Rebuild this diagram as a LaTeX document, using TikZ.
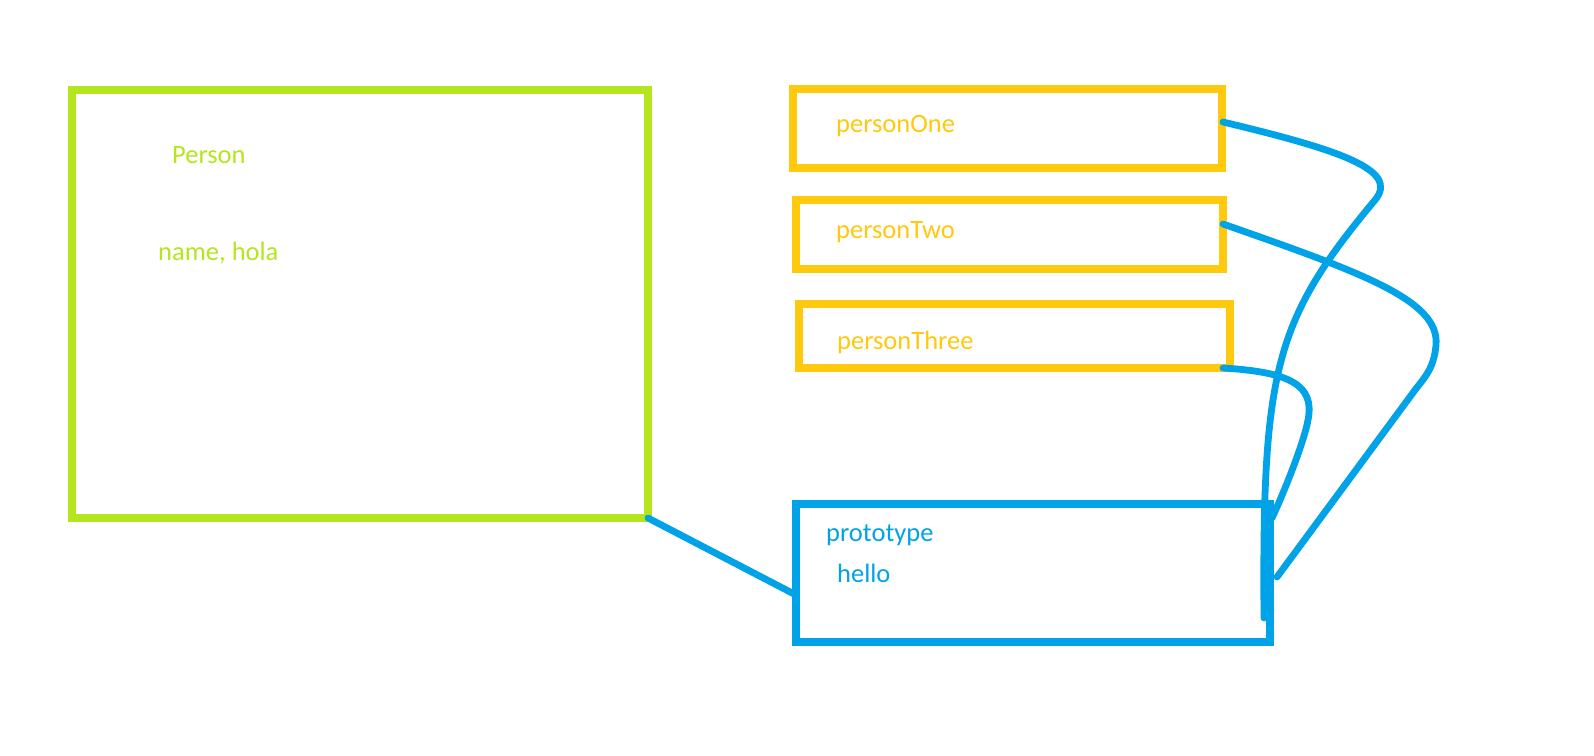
\documentclass[tikz,border=0pt]{standalone}
\usepackage{fontspec}
\setmainfont{Carlito}
\definecolor{pgreen}{HTML}{B5E61D}
\definecolor{pyellow}{HTML}{FFC90E}
\definecolor{pblue}{HTML}{00A2E8}
\begin{document}
\begin{tikzpicture}[x=1pt,y=-1pt,
  box/.style={draw,line width=7.5pt,rectangle,inner sep=0pt,outer sep=0pt},
  lbl/.style={anchor=base west,inner sep=0pt,font=\fontsize{26.5}{30}\selectfont},
  link/.style={draw=pblue,line width=6.8pt,line cap=round,line join=round}]
\useasboundingbox (0,0) rectangle (1594,755);
\fill[white] (0,0) rectangle (1594,755);
% boxes
\node[box,draw=pgreen,minimum width=576pt,minimum height=428pt] (person) at (360,304) {};
\node[box,draw=pyellow,minimum width=429pt,minimum height=79pt] (p1) at (1007.5,128.5) {};
\node[box,draw=pyellow,minimum width=427pt,minimum height=69pt] (p2) at (1009.5,234.5) {};
\node[box,draw=pyellow,minimum width=431pt,minimum height=64pt] (p3) at (1014.5,336) {};
\node[box,draw=pblue,minimum width=474pt,minimum height=138pt] (proto) at (1033,573) {};
% texts
\node[lbl,text=pgreen] (tperson) at (172,163) {Person};
\node[lbl,text=pgreen] (tname) at (158,260) {name, hola};
\node[lbl,text=pyellow] (t1) at (836,132) {personOne};
\node[lbl,text=pyellow] (t2) at (836,238) {personTwo};
\node[lbl,text=pyellow] (t3) at (837,349) {personThree};
\node[lbl,text=pblue] (tproto) at (826,541) {prototype};
\node[lbl,text=pblue] (thello) at (837,582) {hello};
% connector coordinates
\coordinate (protoin) at ([yshift=-22pt]proto.west);
\coordinate (c1s) at ([xshift=1pt,yshift=6.5pt]p1.east);
\coordinate (c2s) at ([xshift=0pt,yshift=10.5pt]p2.east);
\coordinate (c3s) at ([xshift=-7pt]p3.south east);
\coordinate (c1e) at ([xshift=-6pt,yshift=24pt]proto.south east);
\coordinate (c2e) at ([xshift=7pt,yshift=65pt]proto.south east);
\coordinate (c3e) at ([xshift=2pt,yshift=124pt]proto.south east);
% connectors
\draw[link] (person.south east) -- (protoin);
\draw[link] (c1s) .. controls (1340,150) and (1400,170) .. (1375,200)
  .. controls (1275,320) and (1262,368) .. (c1e);
\draw[link] (c2s) .. controls (1360,272) and (1440,300) .. (1436,345)
  .. controls (1434,368) and (1425,377) .. (1415,390) -- (c2e);
\draw[link] (c3s) .. controls (1290,372) and (1315,385) .. (1308,420)
  .. controls (1304,442) and (1285,490) .. (c3e);
\end{tikzpicture}
\end{document}
